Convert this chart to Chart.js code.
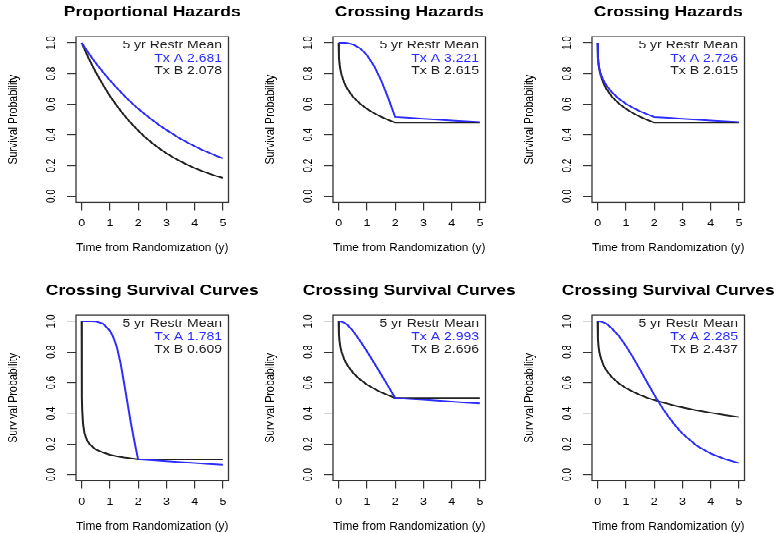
<!DOCTYPE html>
<html>
<head>
<meta charset="utf-8">
<title>5 yr Restricted Mean Survival</title>
<script src="https://cdn.jsdelivr.net/npm/chart.js@4.4.1/dist/chart.umd.min.js"></script>
<style>
    html, body { margin: 0; padding: 0; background: #fff; overflow: hidden; width: 776px; height: 533px; }
    /* panels are laid out at full height, then squeezed vertically */
    #page { position: absolute; left: 0; top: 0; width: 776px; height: 700px; transform: scaleY(0.78); transform-origin: 0 0; }
    #page canvas { position: absolute; }
</style>
</head>
<body>
<div id="page"></div>
<script>
const FONT = '"Liberation Sans", Arial, Helvetica, sans-serif';
const BLUE = 'rgb(45, 45, 255)';
const BLACK = '#222';
const AXIS = '#333';

const xTicks = [0, 1, 2, 3, 4, 5];
const yTicks = [0, 0.2, 0.4, 0.6, 0.8, 1.0];

const titles = [
    'Proportional Hazards', 'Crossing Hazards', 'Crossing Hazards',
    'Crossing Survival Curves', 'Crossing Survival Curves', 'Crossing Survival Curves'
];
const rmstA = [2.681, 3.221, 2.726, 1.781, 2.993, 2.285];
const rmstB = [2.078, 2.615, 2.615, 0.609, 2.696, 2.437];

// Proportional hazards
const tProp = [0, 0.25, 0.5, 0.75, 1, 1.25, 1.5, 1.75, 2, 2.25, 2.5, 2.75, 3, 3.25, 3.5, 3.75, 4, 4.25, 4.5, 4.75, 5];
const propA = [1, 0.932, 0.869, 0.811, 0.756, 0.705, 0.657, 0.613, 0.571, 0.533, 0.497, 0.463, 0.432, 0.403, 0.375, 0.350, 0.326, 0.304, 0.284, 0.264, 0.247];
const propB = [1, 0.899, 0.809, 0.728, 0.654, 0.589, 0.529, 0.476, 0.428, 0.385, 0.346, 0.312, 0.280, 0.252, 0.227, 0.204, 0.183, 0.165, 0.148, 0.133, 0.120];

// Crossing hazards (both panels share Tx B)
const tCross = [0, 0.01, 0.03, 0.06, 0.1, 0.2, 0.3, 0.5, 0.75, 1, 1.25, 1.5, 1.75, 2, 2.5, 3, 3.5, 4, 4.5, 5];
const lateHazA = [1, 1, 1, 1, 1, 1, 0.998, 0.990, 0.966, 0.921, 0.851, 0.757, 0.643, 0.517, 0.511, 0.505, 0.500, 0.494, 0.489, 0.483];
const earlyHazA = [1, 0.905, 0.862, 0.830, 0.803, 0.757, 0.725, 0.678, 0.636, 0.603, 0.577, 0.554, 0.535, 0.517, 0.511, 0.505, 0.500, 0.494, 0.489, 0.483];
const hazB = [1, 0.909, 0.864, 0.827, 0.793, 0.739, 0.702, 0.650, 0.605, 0.570, 0.542, 0.518, 0.498, 0.480, 0.480, 0.480, 0.480, 0.480, 0.480, 0.480];

// Crossing survival curves, steep drop
const tSteep = [0, 0.005, 0.01, 0.02, 0.05, 0.1, 0.2, 0.3, 0.5, 0.75, 1, 1.125, 1.25, 1.375, 1.5, 1.625, 1.75, 1.875, 2, 2.5, 3, 3.5, 4, 4.5, 5];
const steepA = [1, 1, 1, 1, 1, 1, 1, 1, 0.998, 0.985, 0.94, 0.895, 0.83, 0.73, 0.6, 0.465, 0.33, 0.21, 0.1, 0.094, 0.088, 0.082, 0.076, 0.070, 0.065];
const steepB = [1, 0.6, 0.5, 0.42, 0.33, 0.27, 0.22, 0.195, 0.165, 0.145, 0.13, 0.125, 0.12, 0.116, 0.112, 0.109, 0.106, 0.103, 0.1, 0.1, 0.1, 0.1, 0.1, 0.1, 0.1];

// Crossing survival curves, joining at 2 years
const linearA = [1, 1, 1, 0.999, 0.997, 0.990, 0.978, 0.940, 0.875, 0.805, 0.730, 0.655, 0.578, 0.500, 0.494, 0.488, 0.482, 0.476, 0.470, 0.465];
const linearB = [1, 0.914, 0.872, 0.835, 0.803, 0.751, 0.716, 0.666, 0.622, 0.588, 0.561, 0.538, 0.518, 0.500, 0.500, 0.500, 0.500, 0.500, 0.500, 0.500];

// Crossing survival curves, crossing near 2.2 years
const tLate = [0, 0.01, 0.03, 0.06, 0.1, 0.2, 0.3, 0.5, 0.75, 1, 1.25, 1.5, 1.75, 2, 2.25, 2.5, 2.75, 3, 3.5, 4, 4.5, 5];
const sigmoidA = [1, 1, 1, 0.999, 0.998, 0.993, 0.985, 0.955, 0.905, 0.840, 0.765, 0.685, 0.603, 0.522, 0.447, 0.380, 0.320, 0.268, 0.190, 0.138, 0.102, 0.076];
const slowB = [1, 0.885, 0.838, 0.800, 0.768, 0.716, 0.682, 0.636, 0.595, 0.565, 0.541, 0.520, 0.502, 0.487, 0.473, 0.461, 0.449, 0.439, 0.420, 0.404, 0.389, 0.376];

const panelTimes = [tProp, tCross, tCross, tSteep, tCross, tLate];
const panelA = [propA, lateHazA, earlyHazA, steepA, linearA, sigmoidA];
const panelB = [propB, hazB, hazB, steepB, linearB, slowB];

// canvas placement
const PANEL_W = 262;
const PANEL_H = 340;
const colLeft = [0, 257, 516];
const rowTop = [0, 357];

function toPoints(times, values) {
    return times.map((t, i) => ({ x: t, y: values[i] }));
}

// box around the plot region, panel title and the restricted-mean note
function panelDecor(i) {
    return {
        id: 'panelDecor',
        afterDraw(chart) {
            const { ctx, chartArea: a } = chart;
            ctx.save();
            ctx.strokeStyle = AXIS;
            ctx.lineWidth = 1.3;
            ctx.strokeRect(a.left, a.top, a.right - a.left, a.bottom - a.top);

            ctx.fillStyle = '#000';
            ctx.font = 'bold 17.5px ' + FONT;
            ctx.textAlign = 'center';
            ctx.textBaseline = 'middle';
            ctx.fillText(titles[i], (a.left + a.right) / 2, 16);

            ctx.font = '14px ' + FONT;
            ctx.textAlign = 'right';
            const x = a.right - 6.5;
            ctx.fillStyle = BLACK;
            ctx.fillText('5 yr Restr Mean', x, a.top + 11.5);
            ctx.fillStyle = BLUE;
            ctx.fillText('Tx A ' + rmstA[i].toFixed(3), x, a.top + 28);
            ctx.fillStyle = BLACK;
            ctx.fillText('Tx B ' + rmstB[i].toFixed(3), x, a.top + 44.5);
            ctx.restore();
        }
    };
}

function buildPanel(i) {
    const canvas = document.createElement('canvas');
    canvas.width = PANEL_W;
    canvas.height = PANEL_H;
    canvas.style.left = colLeft[i % 3] + 'px';
    canvas.style.top = rowTop[Math.floor(i / 3)] + 'px';
    document.getElementById('page').appendChild(canvas);

    const times = panelTimes[i];
    new Chart(canvas.getContext('2d'), {
        type: 'line',
        data: {
            datasets: [
                { label: 'Tx A', data: toPoints(times, panelA[i]), borderColor: BLUE },
                { label: 'Tx B', data: toPoints(times, panelB[i]), borderColor: BLACK }
            ]
        },
        options: {
            responsive: false,
            animation: false,
            layout: { padding: { top: 47.1, right: PANEL_W - 228.5, bottom: 0, left: 0 } },
            elements: {
                point: { radius: 0 },
                line: { borderWidth: 2, tension: 0, fill: false }
            },
            plugins: {
                legend: { display: false },
                tooltip: { enabled: false }
            },
            scales: {
                x: {
                    type: 'linear',
                    min: -0.2,
                    max: 5.2,
                    afterBuildTicks: s => { s.ticks = xTicks.map(v => ({ value: v })); },
                    afterFit: s => { s.height = PANEL_H - 259.4; },
                    grid: { drawOnChartArea: false, tickLength: 10, color: AXIS, lineWidth: 1.2 },
                    border: { display: false },
                    ticks: {
                        font: { family: FONT, size: 12.5 },
                        color: '#000',
                        padding: 10,
                        maxRotation: 0,
                        autoSkip: false,
                        callback: v => String(v)
                    },
                    title: {
                        display: true,
                        text: 'Time from Randomization (y)',
                        font: { family: FONT, size: 14 },
                        color: '#000',
                        padding: { top: 0, bottom: 13.3 }
                    }
                },
                y: {
                    type: 'linear',
                    min: -0.04,
                    max: 1.04,
                    afterBuildTicks: s => { s.ticks = yTicks.map(v => ({ value: v })); },
                    afterFit: s => { s.width = 76; },
                    grid: { drawOnChartArea: false, tickLength: 9, color: AXIS, lineWidth: 1.2 },
                    border: { display: false },
                    ticks: {
                        font: { family: FONT, size: 12.5 },
                        color: '#000',
                        padding: 7,
                        minRotation: 90,
                        maxRotation: 90,
                        crossAlign: 'center',
                        autoSkip: false,
                        callback: v => Number(v).toFixed(1)
                    },
                    title: {
                        display: true,
                        text: 'Survival Probability',
                        font: { family: FONT, size: 13.5 },
                        color: '#000',
                        padding: { top: 5.4, bottom: 0 }
                    }
                }
            }
        },
        plugins: [panelDecor(i)]
    });
}

for (let i = 0; i < 6; i++) {
    buildPanel(i);
}
</script>
</body>
</html>
